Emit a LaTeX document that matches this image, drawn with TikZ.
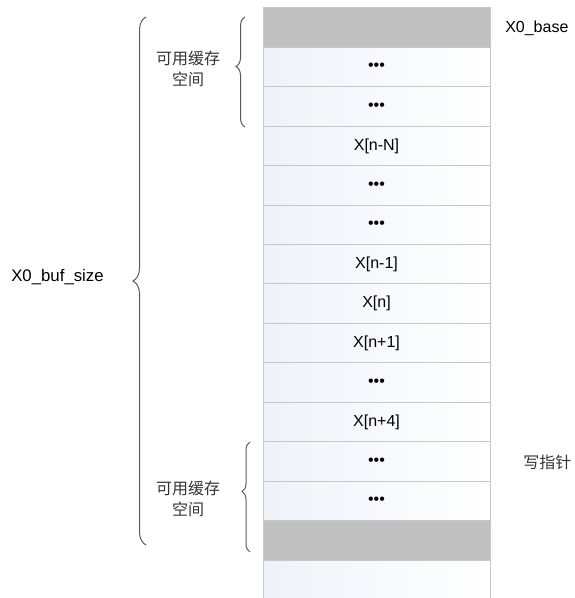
\documentclass[tikz,border=0pt]{standalone}
\usepackage{fontspec}
\setmainfont{Liberation Sans}
\newfontfamily\cjk{Noto Sans CJK SC}
\usetikzlibrary{decorations.pathreplacing}
\definecolor{celltint}{RGB}{232,238,247}
\definecolor{cellgrey}{RGB}{192,192,192}
\newcommand\rowdots{•••}
\tikzset{
  cell/.style={draw=black!22, line width=0.75pt, inner sep=0pt,
    minimum width=170.25pt, minimum height=29.57pt,
    left color=celltint!70!white, right color=white, font=\fontsize{12}{14}\selectfont},
  white cell/.style={cell},
  grey cell/.style={cell, left color=cellgrey, right color=cellgrey},
  brc/.style={draw=black!65, line width=0.75pt, decorate,
    decoration={brace, amplitude=#1}},
  lbl/.style={font=\fontsize{12}{14}\selectfont, inner sep=0pt},
  cjklbl/.style={font=\cjk\fontsize{12}{15.75}\selectfont, text=black!80, align=center, inner sep=0pt}
}
\begin{document}
\begin{tikzpicture}[x=0.75pt, y=0.75pt]
    \useasboundingbox (0,0) rectangle (574,598);
    \clip (0,0) rectangle (574,598);
    \foreach \sty/\lab [count=\i from 0] in {grey cell/{}, white cell/\rowdots, white cell/\rowdots,
        white cell/{X[n-N]}, white cell/\rowdots, white cell/\rowdots, white cell/{X[n-1]},
        white cell/{X[n]}, white cell/{X[n+1]}, white cell/\rowdots, white cell/{X[n+4]},
        white cell/\rowdots, white cell/\rowdots, grey cell/{}, white cell/{}}
        \node[\sty] (c\i) at (376.5, 570.29-39.43*\i) {\lab};
    \node[lbl, anchor=west] (base) at (505,570) {X0\_base};
    \node[cjklbl, anchor=west] (wptr) at (523,136) {写指针};
    \coordinate (bufb) at (146,53);
    \coordinate (buft) at (146,581);
    \coordinate (freeAb) at (245,471);
    \coordinate (freeAt) at (245,581);
    \coordinate (freeBb) at (250,46);
    \coordinate (freeBt) at (250,156);
    \draw[brc=9.75pt] (bufb) -- (buft);
    \draw[brc=6.75pt, decoration={aspect=0.55}] (freeAb) -- (freeAt);
    \draw[brc=6pt, decoration={aspect=0.55}] (freeBb) -- (freeBt);
    \node[lbl, anchor=west, font=\fontsize{12.6}{14}\selectfont] (bufsize) at (11,321) {X0\_buf\_size};
    \node[cjklbl] (freeA) at (188,529.5) {可用缓存\\空间};
    \node[cjklbl] (freeB) at (188,99) {可用缓存\\空间};
\end{tikzpicture}
\end{document}
